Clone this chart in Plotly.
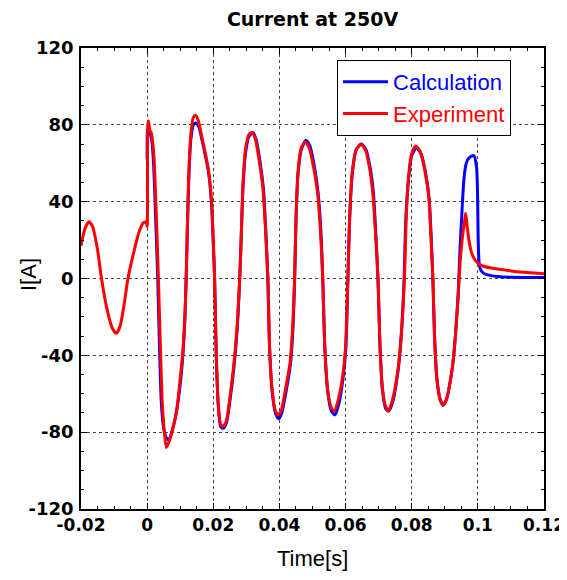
import plotly.graph_objects as go

# ---- data ----
exp_t = [-0.0200, -0.0188, -0.0176, -0.0165, -0.0150, -0.0138, -0.0120, -0.0105, -0.0093, -0.0082,
         -0.0070, -0.0058, -0.0040, -0.0025, -0.0012, -0.0003, 0.0000, 0.0002, 0.0004, 0.0008,
         0.0012, 0.0020, 0.0028, 0.0034, 0.0040, 0.0045, 0.0052, 0.0058, 0.0066, 0.0078,
         0.0090, 0.0100, 0.0108, 0.0114, 0.0118, 0.0122, 0.0126, 0.0132, 0.0140, 0.0146,
         0.0155, 0.0165, 0.0175, 0.0185, 0.0195, 0.0200, 0.0204, 0.0209, 0.0215, 0.0222,
         0.0230, 0.0240, 0.0250, 0.0262, 0.0272, 0.0280, 0.0285, 0.0290, 0.0298, 0.0308,
         0.0318, 0.0328, 0.0340, 0.0350, 0.0358, 0.0365, 0.0370, 0.0378, 0.0388, 0.0396,
         0.0405, 0.0418, 0.0432, 0.0440, 0.0446, 0.0450, 0.0456, 0.0466, 0.0478, 0.0490,
         0.0503, 0.0515, 0.0524, 0.0531, 0.0537, 0.0546, 0.0556, 0.0566, 0.0578, 0.0592,
         0.0600, 0.0607, 0.0612, 0.0620, 0.0632, 0.0646, 0.0660, 0.0672, 0.0682, 0.0690,
         0.0698, 0.0704, 0.0712, 0.0722, 0.0730, 0.0742, 0.0758, 0.0768, 0.0778, 0.0783,
         0.0790, 0.0800, 0.0812, 0.0826, 0.0840, 0.0852, 0.0858, 0.0864, 0.0869, 0.0876,
         0.0886, 0.0895, 0.0905, 0.0915, 0.0924, 0.0932, 0.0940, 0.0947, 0.0955, 0.0960,
         0.0963, 0.0967, 0.0973, 0.0980, 0.0990, 0.1000, 0.1015, 0.1040, 0.1080, 0.1120,
         0.1160, 0.1200]
exp_i = [17, 26, 29.5, 27, 15, 0, -17, -26, -28.5, -25,
         -14, 0, 14, 24, 29, 29.5, 27, 80, 82, 77,
         76, 65, 32, 0, -35, -62, -80, -88, -85, -78,
         -68, -52, -38, -20, 0, 30, 55, 75, 84, 85,
         82, 74, 66, 57, 40, 20, 0, -40, -65, -76,
         -77, -74, -62, -45, -25, 0, 25, 50, 68, 75,
         76, 72, 60, 47, 25, 0, -35, -58, -69, -71,
         -69, -58, -44, -25, 0, 30, 55, 68, 71, 68,
         58, 45, 25, 0, -35, -58, -67, -69, -63, -50,
         -35, 0, 30, 55, 67, 70, 67, 58, 45, 25,
         0, -35, -58, -67, -69, -63, -48, -30, 0, 30,
         52, 65, 69, 66, 56, 42, 22, 0, -30, -52,
         -63, -66, -63, -55, -45, -30, -10, 10, 24, 30,
         34, 28, 20, 14, 10, 8, 6.5, 5.5, 4.5, 3.5,
         3, 2.5]

calc_t = [0.0000, 0.0002, 0.0008, 0.0014, 0.0020, 0.0026, 0.0032, 0.0038, 0.0043, 0.0050,
          0.0058, 0.0066, 0.0076, 0.0088, 0.0100, 0.0108, 0.0114, 0.0118, 0.0122, 0.0126,
          0.0132, 0.0140, 0.0148, 0.0156, 0.0166, 0.0176, 0.0186, 0.0195, 0.0200, 0.0204,
          0.0209, 0.0215, 0.0222, 0.0230, 0.0240, 0.0250, 0.0262, 0.0272, 0.0280, 0.0285,
          0.0290, 0.0298, 0.0308, 0.0320, 0.0330, 0.0342, 0.0352, 0.0359, 0.0365, 0.0370,
          0.0378, 0.0388, 0.0398, 0.0407, 0.0420, 0.0433, 0.0441, 0.0446, 0.0450, 0.0456,
          0.0466, 0.0480, 0.0492, 0.0505, 0.0516, 0.0525, 0.0531, 0.0537, 0.0546, 0.0557,
          0.0568, 0.0580, 0.0593, 0.0601, 0.0607, 0.0612, 0.0620, 0.0632, 0.0648, 0.0662,
          0.0674, 0.0684, 0.0691, 0.0698, 0.0704, 0.0712, 0.0722, 0.0731, 0.0743, 0.0758,
          0.0768, 0.0777, 0.0782, 0.0790, 0.0800, 0.0814, 0.0828, 0.0842, 0.0853, 0.0859,
          0.0864, 0.0869, 0.0876, 0.0886, 0.0895, 0.0905, 0.0915, 0.0924, 0.0932, 0.0940,
          0.0946, 0.0952, 0.0958, 0.0965, 0.0975, 0.0988, 0.0996, 0.0999, 0.1001, 0.1004,
          0.1010, 0.1020, 0.1040, 0.1060, 0.1100, 0.1200]
calc_i = [62, 78, 76, 72, 58, 30, 0, -40, -65, -78,
          -83, -84, -79, -70, -55, -40, -22, 0, 28, 52,
          72, 80, 81, 79, 72, 64, 55, 38, 18, 0,
          -40, -66, -77, -78, -75, -64, -47, -27, 0, 24,
          48, 66, 74, 76, 72, 60, 46, 24, 0, -35,
          -59, -70, -73, -70, -59, -45, -26, 0, 30, 54,
          67, 72, 69, 59, 46, 26, 0, -35, -59, -69,
          -71, -65, -51, -36, 0, 30, 54, 67, 70, 67,
          58, 45, 25, 0, -35, -59, -68, -69, -64, -49,
          -31, 0, 30, 51, 64, 68, 65, 55, 41, 21,
          0, -30, -52, -63, -66, -63, -55, -45, -30, -10,
          15, 35, 52, 60, 63, 64, 58, 45, 20, 8,
          4, 2.5, 1.5, 1.0, 0.6, 0.5]

x_ticks = [-0.02, 0, 0.02, 0.04, 0.06, 0.08, 0.1, 0.12]
x_labels = ["-0.02", "0", "0.02", "0.04", "0.06", "0.08", "0.1", "0.12"]
y_ticks = [-120, -80, -40, 0, 40, 80, 120]
y_labels = ["-120", "-80", "-40", "0", "40", "80", "120"]

BOLD = "DejaVu Sans, sans-serif"
REG = "Liberation Sans, Arial, sans-serif"

# the page puts the figure inside an 8px body margin, so the size is reduced to fit the window
W, H = 559, 564

fig = go.Figure()
fig.add_trace(go.Scatter(x=calc_t, y=calc_i, mode="lines",
                         name="<span style='color:#0000ff'>Calculation</span>",
                         line=dict(color="#0000ff", width=3, shape="spline", smoothing=0.6)))
fig.add_trace(go.Scatter(x=exp_t, y=exp_i, mode="lines",
                         name="<span style='color:#ff0000'>Experiment</span>",
                         line=dict(color="#ff0000", width=3, shape="spline", smoothing=0.6)))

axis_common = dict(
    showline=True, linecolor="black", linewidth=1.5, mirror="allticks",
    ticks="inside", ticklen=6, tickcolor="black", tickwidth=1,
    showgrid=True, gridcolor="#444444", griddash="dot", gridwidth=1,
    zeroline=False,
)

fig.update_xaxes(**axis_common, range=[-0.02, 0.12], tickvals=x_ticks, ticktext=x_labels,
                 tickfont=dict(family=BOLD, size=17, color="black", weight="bold"),
                 minor=dict(ticks="inside", dtick=0.005, ticklen=3, tickcolor="black", showgrid=False))
fig.update_yaxes(**axis_common, range=[-120, 120], tickvals=y_ticks, ticktext=y_labels,
                 tickfont=dict(family=BOLD, size=18, color="black", weight="bold"),
                 ticklabelstandoff=2,
                 minor=dict(ticks="inside", dtick=10, ticklen=3, tickcolor="black", showgrid=False))

fig.update_layout(
    width=W, height=H,
    margin=dict(l=73, r=23, t=40, b=63, autoexpand=False),
    paper_bgcolor="white", plot_bgcolor="white",
    title=dict(text="Current at 250V", xref="paper", x=0.5, xanchor="center",
               yref="container", y=1 - 11 / H, yanchor="middle",
               font=dict(family=BOLD, size=19, color="black", weight="bold")),
    legend=dict(x=0.553, y=0.974, xanchor="left", yanchor="top",
                bgcolor="white", bordercolor="black", borderwidth=1,
                font=dict(family=REG, size=22), tracegroupgap=0, itemwidth=45),
    showlegend=True,
    annotations=[
        dict(text="Time[s]", xref="paper", x=0.5, xanchor="center",
             yref="paper", y=-(550 - 501) / 461, yanchor="middle", showarrow=False,
             font=dict(family=REG, size=22, color="black")),
        dict(text="I[A]", xref="paper", x=-(73 - 20) / 463, xanchor="center",
             yref="paper", y=(501 - 267) / 461, yanchor="middle", textangle=-90, showarrow=False,
             font=dict(family=REG, size=22, color="black")),
    ],
)

fig.write_html("out.html")
